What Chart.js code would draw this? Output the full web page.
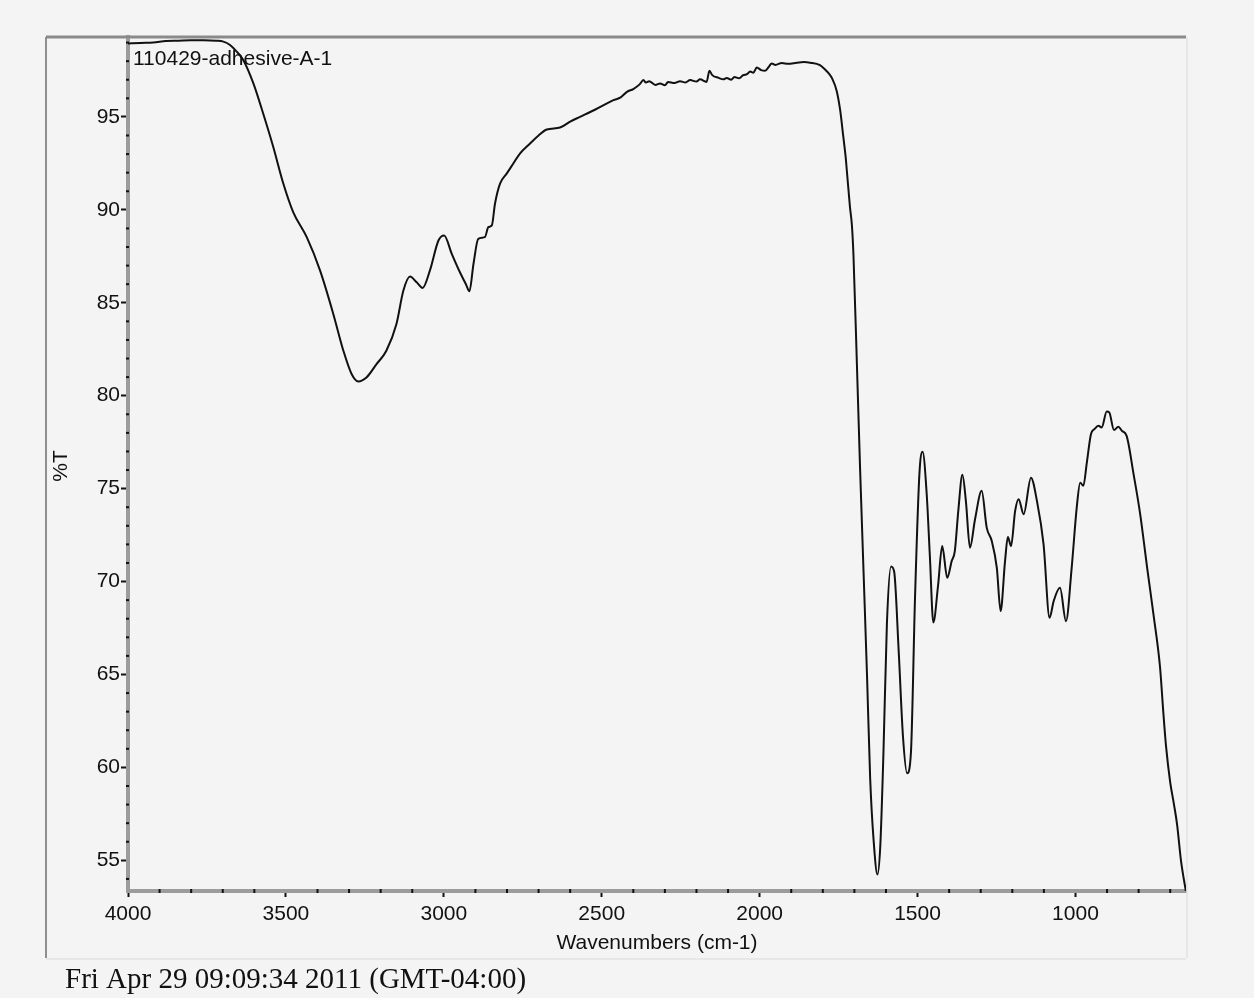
<!DOCTYPE html>
<html>
<head>
<meta charset="utf-8">
<script src="https://cdn.jsdelivr.net/npm/chart.js@4/dist/chart.umd.min.js"></script>
<style>
  html, body { margin: 0; padding: 0; background: #f4f4f4; }
  canvas { display: block; }
</style>
</head>
<body>
<canvas id="c" width="1254" height="998"></canvas>
<script>
// ---- data ----
const sampleName = "110429-adhesive-A-1";
const xAxisTitle = "Wavenumbers (cm-1)";
const yAxisTitle = "%T";
const dateText = "Fri Apr 29 09:09:34 2011 (GMT-04:00)";

const xTickValues = [4000, 3500, 3000, 2500, 2000, 1500, 1000];
const yTickValues = [55, 60, 65, 70, 75, 80, 85, 90, 95];

const wavenumbers = [
  4000, 3960, 3920, 3880, 3840, 3800, 3760, 3720, 3698, 3677,
  3655, 3635, 3603, 3572, 3540, 3508, 3477, 3434, 3392, 3350,
  3318, 3292, 3271, 3245, 3213, 3182, 3150, 3128, 3107, 3086,
  3067, 3044, 3017, 2999, 2975, 2949, 2930, 2919, 2906, 2891,
  2870, 2859, 2848, 2838, 2822, 2801, 2780, 2759, 2727, 2700,
  2674, 2632, 2600, 2569, 2520, 2463, 2440, 2420, 2400, 2380,
  2368, 2360, 2350, 2330, 2315, 2300, 2290, 2270, 2252, 2235,
  2220, 2200, 2189, 2168, 2159, 2150, 2130, 2115, 2104, 2090,
  2080, 2065, 2052, 2040, 2030, 2020, 2009, 1995, 1983, 1970,
  1962, 1950, 1930, 1910, 1883, 1860, 1840, 1809, 1790, 1777,
  1770, 1756, 1745, 1735, 1728, 1724, 1714, 1708, 1703, 1692,
  1682, 1671, 1660, 1650, 1639, 1627, 1618, 1608, 1597, 1584,
  1574, 1560, 1546, 1533, 1521, 1508, 1494, 1484, 1471, 1461,
  1450, 1435, 1422, 1406, 1392, 1382, 1371, 1358, 1347, 1334,
  1318, 1297, 1281, 1265, 1249, 1237, 1223, 1214, 1204, 1191,
  1180, 1164, 1141, 1122, 1101, 1082, 1069, 1049, 1030, 1012,
  996, 985, 975, 964, 951, 940, 927, 917, 901, 893,
  878, 864, 853, 838, 816, 795, 773, 753, 732, 722,
  713, 700, 688, 678, 666, 650
];

const transmittance = [
  98.95, 98.98, 99.00, 99.08, 99.10, 99.12, 99.12, 99.10, 99.05, 98.87,
  98.50, 98.06, 96.80, 95.18, 93.38, 91.40, 89.88, 88.53, 86.74, 84.40,
  82.42, 81.17, 80.77, 80.98, 81.70, 82.42, 83.86, 85.66, 86.41, 86.10,
  85.80, 86.74, 88.35, 88.62, 87.64, 86.64, 86.00, 85.62, 87.10, 88.44,
  88.53, 89.07, 89.16, 90.33, 91.41, 91.95, 92.49, 93.03, 93.57, 94.00,
  94.32, 94.43, 94.75, 95.00, 95.40, 95.90, 96.05, 96.35, 96.50, 96.75,
  96.98, 96.85, 96.92, 96.72, 96.80, 96.70, 96.88, 96.82, 96.92, 96.85,
  96.98, 96.90, 97.02, 96.88, 97.48, 97.25, 97.10, 97.02, 97.10, 97.00,
  97.15, 97.08, 97.25, 97.30, 97.45, 97.38, 97.66, 97.52, 97.48, 97.72,
  97.88, 97.80, 97.90, 97.86, 97.91, 97.95, 97.92, 97.79, 97.50, 97.25,
  97.05, 96.40, 95.36, 93.92, 92.90, 92.13, 90.15, 89.20, 87.60, 81.67,
  76.09, 70.53, 64.96, 59.39, 56.05, 54.24, 55.77, 60.78, 67.74, 70.81,
  70.53, 66.35, 61.62, 59.68, 60.78, 69.14, 75.82, 76.98, 74.70, 71.36,
  67.80, 69.80, 71.91, 70.20, 71.10, 71.64, 73.80, 75.74, 74.34, 71.82,
  73.35, 74.88, 72.90, 72.18, 70.74, 68.41, 71.10, 72.40, 71.91, 73.80,
  74.43, 73.62, 75.59, 74.34, 72.00, 68.05, 68.95, 69.66, 67.87, 70.74,
  73.98, 75.32, 75.15, 76.40, 77.93, 78.20, 78.38, 78.29, 79.15, 79.10,
  78.15, 78.33, 78.11, 77.84, 75.78, 73.62, 70.74, 68.23, 65.35, 63.00,
  61.10, 59.20, 58.00, 56.90, 55.00, 53.30
];

const spectrumPoints = wavenumbers.map((w, i) => ({ x: w, y: transmittance[i] }));

// ---- decorations ----
const SANS = '"Liberation Sans", Arial, sans-serif';
const SERIF = '"Liberation Serif", "Times New Roman", serif';

const decor = {
  id: 'decor',
  beforeDraw(chart) {
    const ctx = chart.ctx;
    ctx.save();
    ctx.fillStyle = '#f4f4f4';
    ctx.fillRect(0, 0, chart.width, chart.height);
    ctx.restore();
  },
  afterDraw(chart) {
    const ctx = chart.ctx;
    const a = chart.chartArea;
    const xs = chart.scales.x, ys = chart.scales.y;
    ctx.save();
    // outer frame
    ctx.strokeStyle = '#8f8f8f';
    ctx.lineWidth = 2;
    ctx.beginPath();
    ctx.moveTo(46, a.top); ctx.lineTo(46, 958);
    ctx.stroke();
    ctx.strokeStyle = '#e2e2e2';
    ctx.lineWidth = 1.5;
    ctx.beginPath();
    ctx.moveTo(46, 959); ctx.lineTo(a.right, 959);
    ctx.moveTo(a.right + 1, a.top); ctx.lineTo(a.right + 1, 958);
    ctx.stroke();
    // top line
    ctx.strokeStyle = '#8a8a8a';
    ctx.lineWidth = 3;
    ctx.beginPath();
    ctx.moveTo(46, a.top); ctx.lineTo(a.right, a.top);
    ctx.stroke();

    // minor ticks
    ctx.fillStyle = '#111';
    for (let v = Math.ceil(ys.min); v <= ys.max; v++) {
      if (v % 5 === 0) continue;
      const py = ys.getPixelForValue(v);
      ctx.fillRect(a.left - 2, py - 1, 3, 2);
    }
    for (let v = 700; v < 4000; v += 100) {
      if (v % 500 === 0) continue;
      const px = xs.getPixelForValue(v);
      ctx.fillRect(px - 1, a.bottom - 2, 2, 4);
    }

    // texts
    ctx.fillStyle = '#111';
    ctx.font = '21px ' + SANS;
    ctx.textAlign = 'left';
    ctx.textBaseline = 'middle';
    ctx.fillText(sampleName, 133, 59);

    ctx.textAlign = 'center';
    ctx.fillText(xAxisTitle, (a.left + a.right) / 2, 943);

    ctx.save();
    ctx.translate(61, 466);
    ctx.rotate(-Math.PI / 2);
    ctx.fillText(yAxisTitle, 0, 0);
    ctx.restore();

    ctx.font = '29px ' + SERIF;
    ctx.textAlign = 'left';
    ctx.fillText(dateText, 65, 980);
    ctx.restore();
  }
};

new Chart(document.getElementById('c'), {
  type: 'line',
  data: {
    datasets: [{
      data: spectrumPoints,
      borderColor: '#111',
      borderWidth: 2,
      pointRadius: 0,
      fill: false,
      cubicInterpolationMode: 'monotone'
    }]
  },
  options: {
    responsive: false,
    animation: false,
    devicePixelRatio: 1,
    layout: { padding: { left: 0, top: 37, right: 68, bottom: 67 } },
    plugins: { legend: { display: false }, tooltip: { enabled: false } },
    scales: {
      x: {
        type: 'linear',
        reverse: true,
        min: 650,
        max: 4000,
        afterFit(s) { s.height = 40; },
        afterBuildTicks(s) { s.ticks = xTickValues.map(v => ({ value: v })); },
        ticks: { color: '#111', font: { family: SANS, size: 21 }, padding: 5, autoSkip: false, maxRotation: 0, includeBounds: false, callback: v => String(v) },
        grid: { display: true, drawOnChartArea: false, drawTicks: true, tickLength: 6, tickColor: '#111', tickWidth: 2 },
        border: { display: true, color: '#9c9c9c', width: 4 }
      },
      y: {
        type: 'linear',
        min: 53.35,
        max: 99.3,
        afterFit(s) { s.width = 128; },
        afterBuildTicks(s) { s.ticks = yTickValues.map(v => ({ value: v })); },
        ticks: { color: '#111', font: { family: SANS, size: 21 }, padding: 1, autoSkip: false, includeBounds: false, callback: v => String(v) },
        grid: { display: true, drawOnChartArea: false, drawTicks: true, tickLength: 7, tickColor: '#111', tickWidth: 2 },
        border: { display: true, color: '#9c9c9c', width: 4 }
      }
    }
  },
  plugins: [decor]
});
</script>
</body>
</html>
